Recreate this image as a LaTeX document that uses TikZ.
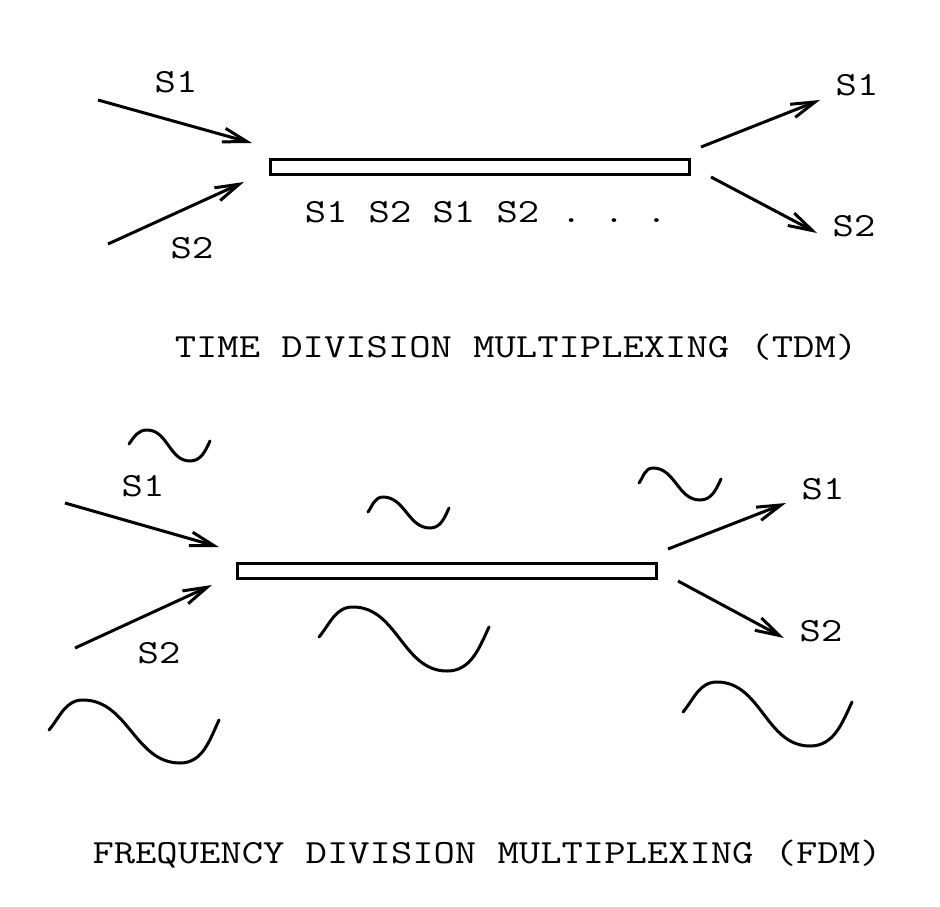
\documentclass[tikz,border=0pt]{standalone}
\usepackage{fontspec}
\setmonofont[FakeStretch=1.225]{Latin Modern Mono}
\usetikzlibrary{arrows.meta}

\begin{document}
\begin{tikzpicture}[x=0.5pt, y=0.5pt, line width=1.5pt,
  every node/.style={font=\ttfamily\fontsize{16.9}{20}\selectfont, inner sep=0pt},
  link/.style={draw, rectangle, minimum width=209.5pt, minimum height=7.5pt},
  sig/.style={-{Straight Barb[length=12pt, width=7pt]}},
  wave/.style={line cap=round, line join=round}]
\useasboundingbox (0,0) rectangle (940,-906);

% TDM nodes
\node[link] (tdmlink) at (480,-167) {};
\node[anchor=base] (tdmS1in) at (176,-92) {S1};
\node[anchor=base] (tdmS2in) at (192,-258) {S2};
\node[anchor=base] (tdmS1out) at (857,-95) {S1};
\node[anchor=base] (tdmS2out) at (854,-236) {S2};
\node[anchor=base] (tdmseq) at (486,-222) {S1 S2 S1 S2 . . .};
\node[anchor=base] (tdmtitle) at (516,-357) {TIME DIVISION MULTIPLEXING (TDM)};

% TDM links
\coordinate (tdmA) at (98,-100);  \coordinate (tdmB) at (252,-143);
\coordinate (tdmC) at (108,-244); \coordinate (tdmD) at (244,-182);
\coordinate (tdmE) at (701,-147); \coordinate (tdmF) at (820,-100);
\coordinate (tdmG) at (711,-177); \coordinate (tdmH) at (817,-233);
\draw[sig] (tdmA) -- (tdmB);
\draw[sig] (tdmC) -- (tdmD);
\draw[sig] (tdmE) -- (tdmF);
\draw[sig] (tdmG) -- (tdmH);

% FDM nodes
\node[link] (fdmlink) at (447,-570.5) {};
\node[anchor=base] (fdmS1in) at (143,-496) {S1};
\node[anchor=base] (fdmS2in) at (159,-663) {S2};
\node[anchor=base] (fdmS1out) at (823,-499) {S1};
\node[anchor=base] (fdmS2out) at (821,-641) {S2};
\node[anchor=base] (fdmtitle) at (487,-863) {FREQUENCY DIVISION MULTIPLEXING (FDM)};

% FDM links
\coordinate (fdmA) at (65,-503);  \coordinate (fdmB) at (219,-547);
\coordinate (fdmC) at (75,-648);  \coordinate (fdmD) at (212,-585);
\coordinate (fdmE) at (668,-549); \coordinate (fdmF) at (786,-503);
\coordinate (fdmG) at (678,-581); \coordinate (fdmH) at (784,-638);
\draw[sig] (fdmA) -- (fdmB);
\draw[sig] (fdmC) -- (fdmD);
\draw[sig] (fdmE) -- (fdmF);
\draw[sig] (fdmG) -- (fdmH);

% Carrier waves
\draw[wave] (129,-444) to[out=55,in=180] (147,-430) to[out=0,in=180] (190,-461) to[out=0,in=-115] (210,-441);
\draw[wave] (368,-512) to[out=55,in=180] (383,-497) to[out=0,in=180] (430,-528) to[out=0,in=-115] (449,-508);
\draw[wave] (639,-483) to[out=55,in=180] (653,-468) to[out=0,in=180] (700,-500) to[out=0,in=-115] (721,-479);
\draw[wave] (49,-730) to[out=50,in=180] (83,-700) to[out=0,in=180] (180,-763) to[out=0,in=-115] (219,-720);
\draw[wave] (319,-637) to[out=50,in=180] (353,-607) to[out=0,in=180] (447,-671) to[out=0,in=-115] (489,-627);
\draw[wave] (683,-712) to[out=50,in=180] (717,-682) to[out=0,in=180] (810,-746) to[out=0,in=-115] (852,-702);
\end{tikzpicture}
\end{document}
